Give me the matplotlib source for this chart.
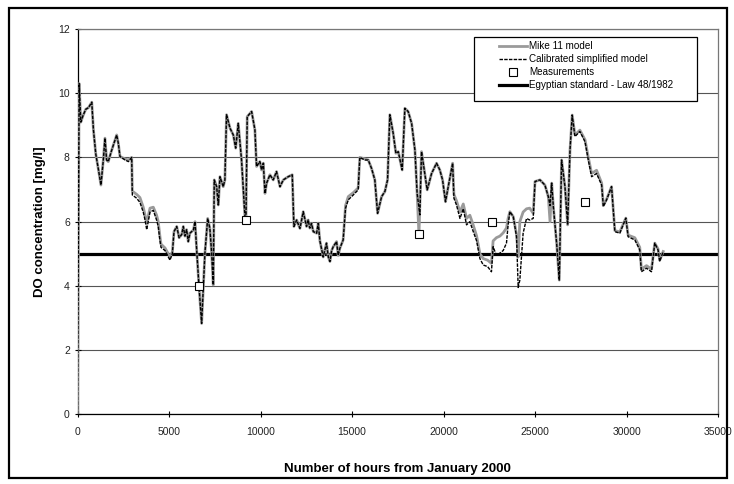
#!/usr/bin/env python3

import matplotlib
matplotlib.use("Agg")
import matplotlib.pyplot as plt
import matplotlib.patches as patches

# data (hours, DO mg/l)
calib_hours = [0, 90, 180, 300, 450, 600, 780, 870, 1000, 1150, 1280, 1410, 1500, 1590,
               1680, 1870, 2140, 2230, 2320, 2600, 2780, 2960, 2995, 3230, 3410, 3590,
               3690, 3780, 3960, 4140, 4320, 4410, 4500, 4560, 4780, 5050, 5180, 5270,
               5420, 5550, 5690, 5780, 5870, 5960, 6050, 6140, 6330, 6420, 6510, 6630,
               6780, 6960, 7110, 7230, 7330, 7416, 7470, 7600, 7690, 7780, 7960, 8050,
               8140, 8330, 8510, 8640, 8780, 8960, 9145, 9200, 9270, 9510, 9690, 9780,
               9960, 10055, 10150, 10240, 10330, 10510, 10690, 10870, 11060, 11240, 11510,
               11730, 11820, 11970, 12150, 12330, 12510, 12600, 12690, 12780, 12880, 13060,
               13150, 13240, 13420, 13600, 13700, 13790, 13880, 13970, 14150, 14240, 14330,
               14510, 14640, 14790, 15060, 15330, 15420, 15700, 15880, 16060, 16240, 16390,
               16610, 16790, 16935, 17060, 17240, 17390, 17520, 17735, 17880, 18060, 18250,
               18430, 18550, 18700, 18790, 19100, 19340, 19610, 19790, 19940, 20100, 20250,
               20490, 20560, 20700, 20890, 21070, 21250, 21430, 21610, 21800, 21980, 22160,
               22400, 22610, 22700, 22880, 23070, 23250, 23430, 23520, 23615, 23800, 23980,
               24070, 24160, 24340, 24525, 24700, 24890, 24990, 25260, 25530, 25715, 25810,
               25900, 25990, 26170, 26315, 26440, 26625, 26770, 26900, 27020, 27170, 27440,
               27720, 27900, 28080, 28350, 28630, 28720, 28900, 29170, 29350, 29620, 29950,
               30075, 30440, 30710, 30800, 31080, 31350, 31530, 31710, 31800, 31990]
calib_do = [0.0, 10.3, 9.1, 9.3, 9.5, 9.55, 9.72, 8.86, 8.1, 7.6, 7.14, 7.92, 8.6, 7.92,
            7.87, 8.23, 8.7, 8.44, 8.03, 7.92, 7.87, 8.0, 6.83, 6.73, 6.6, 6.3,
            6.05, 5.75, 6.3, 6.35, 6.05, 5.85, 5.43, 5.2, 5.1, 4.8, 5.0, 5.69,
            5.85, 5.5, 5.6, 5.85, 5.55, 5.75, 5.38, 5.64, 5.74, 6.0, 5.12, 4.03,
            2.83, 5.02, 6.1, 5.79, 5.0, 4.03, 7.3, 7.09, 6.52, 7.4, 7.09, 7.3,
            9.33, 8.91, 8.7, 8.29, 9.06, 7.92, 6.16, 6.0, 9.27, 9.43, 8.86, 7.72,
            7.87, 7.61, 7.82, 6.88, 7.2, 7.46, 7.3, 7.56, 7.09, 7.3, 7.4,
            7.46, 5.85, 6.05, 5.79, 6.31, 5.85, 6.05, 5.8, 5.95, 5.69, 5.64,
            5.95, 5.4, 4.9, 5.33, 4.9, 4.76, 5.1, 5.22, 5.38, 4.95, 5.17,
            5.43, 6.42, 6.68, 6.83, 6.99, 8.0, 7.92, 7.92, 7.66, 7.3, 6.26,
            6.78, 6.94, 7.3, 9.33, 8.76, 8.13, 8.18, 7.61, 9.53, 9.43, 9.06,
            8.23, 6.88, 6.21, 8.18, 6.99, 7.5, 7.82, 7.61, 7.3, 6.62, 7.09,
            7.82, 6.73, 6.52, 6.1, 6.4, 5.9, 6.0, 5.7, 5.4, 4.85, 4.65,
            4.6, 4.44, 5.22, 4.95, 5.02, 5.1, 5.33, 5.9, 6.31, 6.16, 5.53,
            3.95, 4.18, 5.64, 6.1, 6.05, 6.1, 7.25, 7.3, 7.14, 6.78, 6.5,
            7.2, 6.47, 5.33, 4.18, 7.92, 7.09, 5.9, 8.23, 9.32, 8.65, 8.81,
            8.49, 7.92, 7.4, 7.5, 7.14, 6.47, 6.68, 7.09, 5.69, 5.64, 6.11,
            5.53, 5.43, 5.12, 4.44, 4.55, 4.44, 5.33, 5.12, 4.76, 5.07]

mike_hours = [0, 90, 180, 300, 450, 600, 780, 870, 1000, 1150, 1280, 1410, 1500, 1590,
              1680, 1870, 2140, 2230, 2320, 2600, 2780, 2960, 2995, 3230, 3410, 3590,
              3690, 3780, 3960, 4140, 4320, 4410, 4500, 4560, 4780, 5050, 5180, 5270,
              5420, 5550, 5690, 5780, 5870, 5960, 6050, 6140, 6330, 6420, 6510, 6630,
              6780, 6960, 7110, 7230, 7330, 7416, 7470, 7600, 7690, 7780, 7960, 8050,
              8140, 8330, 8510, 8640, 8780, 8960, 9145, 9200, 9270, 9510, 9690, 9780,
              9960, 10055, 10150, 10240, 10330, 10510, 10690, 10870, 11060, 11240, 11510,
              11730, 11820, 11970, 12150, 12330, 12510, 12600, 12690, 12780, 12880, 13060,
              13150, 13240, 13420, 13600, 13700, 13790, 13880, 13970, 14150, 14240, 14330,
              14510, 14640, 14790, 15060, 15330, 15420, 15700, 15880, 16060, 16240, 16390,
              16610, 16790, 16935, 17060, 17240, 17390, 17520, 17735, 17880, 18060, 18250,
              18430, 18550, 18650, 18790, 19100, 19340, 19610, 19790, 19940, 20100, 20250,
              20490, 20560, 20700, 20890, 21070, 21250, 21430, 21610, 21800, 21980, 22160,
              22400, 22610, 22700, 22880, 23070, 23250, 23430, 23520, 23615, 23800, 23980,
              24070, 24160, 24340, 24525, 24700, 24890, 24990, 25260, 25530, 25715, 25810,
              25900, 25990, 26170, 26315, 26440, 26625, 26770, 26900, 27020, 27170, 27440,
              27720, 27900, 28080, 28350, 28630, 28720, 28900, 29170, 29350, 29620, 29950,
              30075, 30440, 30710, 30800, 31080, 31350, 31530, 31710, 31800, 31990]
mike_do = [0.0, 10.3, 9.1, 9.3, 9.5, 9.55, 9.72, 8.86, 8.1, 7.6, 7.14, 7.92, 8.6, 7.92,
           7.87, 8.23, 8.7, 8.44, 8.03, 7.95, 7.92, 8.0, 6.95, 6.85, 6.75, 6.45,
           6.2, 5.95, 6.42, 6.45, 6.2, 6.0, 5.55, 5.3, 5.18, 4.9, 5.05, 5.69,
           5.85, 5.5, 5.6, 5.85, 5.55, 5.75, 5.38, 5.64, 5.74, 6.0, 5.12, 4.03,
           2.83, 5.02, 6.1, 5.79, 5.0, 4.03, 7.3, 7.09, 6.52, 7.4, 7.09, 7.3,
           9.33, 8.91, 8.7, 8.29, 9.06, 7.92, 6.16, 6.0, 9.27, 9.43, 8.86, 7.72,
           7.87, 7.61, 7.82, 6.88, 7.2, 7.46, 7.3, 7.56, 7.09, 7.3, 7.4,
           7.46, 5.85, 6.05, 5.79, 6.31, 5.85, 6.05, 5.8, 5.95, 5.69, 5.64,
           5.95, 5.4, 4.9, 5.33, 4.9, 4.76, 5.1, 5.22, 5.38, 4.95, 5.17,
           5.43, 6.5, 6.78, 6.9, 7.05, 8.0, 7.95, 7.92, 7.66, 7.3, 6.26,
           6.78, 6.94, 7.3, 9.33, 8.76, 8.13, 8.18, 7.61, 9.53, 9.43, 9.06,
           8.23, 6.88, 5.6, 8.18, 6.99, 7.5, 7.82, 7.61, 7.3, 6.62, 7.09,
           7.82, 6.85, 6.65, 6.3, 6.55, 6.1, 6.2, 5.9, 5.55, 5.0, 4.85,
           4.8, 4.7, 5.4, 5.5, 5.55, 5.65, 5.8, 6.1, 6.31, 6.16, 5.6,
           4.9, 6.0, 6.3, 6.4, 6.42, 6.26, 7.25, 7.3, 7.14, 6.78, 6.0,
           7.2, 6.47, 5.33, 4.18, 7.92, 7.09, 5.9, 8.23, 9.32, 8.7, 8.85,
           8.55, 8.0, 7.5, 7.6, 7.2, 6.5, 6.7, 7.09, 5.72, 5.68, 6.11,
           5.58, 5.5, 5.2, 4.52, 4.63, 4.52, 5.33, 5.15, 4.8, 5.07]

meas_hours = [6640, 9200, 18670, 22650, 27720]
meas_do = [4.0, 6.05, 5.6, 6.0, 6.6]

standard_do = 5.0

x_ticks = list(range(0, 35001, 5000))
y_ticks = list(range(0, 13, 2))

plt.rcParams["font.family"] = ["Liberation Sans", "DejaVu Sans"]

W, H = 734, 484
fig = plt.figure(figsize=(W / 100, H / 100), dpi=100)
ax = fig.add_axes([77.5 / W, 1 - 414.3 / H, 640.8 / W, 385.3 / H])

# outer chart border
fig.patches.append(patches.Rectangle((9 / W, 6 / H), 718 / W, 470 / H,
                                     transform=fig.transFigure, fill=False,
                                     edgecolor="black", linewidth=1.6))

ax.plot(mike_hours, mike_do, color="#9a9a9a", linewidth=2.0, label="Mike 11 model",
        zorder=3)
ax.plot(calib_hours, calib_do, color="black", linewidth=1.0, linestyle=(0, (2.5, 0.9)),
        label="Calibrated simplified model", zorder=4)
ax.plot(meas_hours, meas_do, linestyle="none", marker="s", markersize=6,
        markerfacecolor="white", markeredgecolor="black", markeredgewidth=0.8,
        label="Measurements", zorder=5)
ax.axhline(standard_do, color="black", linewidth=2.3, zorder=2,
           label="Egyptian standard - Law 48/1982")

ax.set_xlim(0, 35000)
ax.set_ylim(0, 12)
ax.set_xticks(x_ticks)
ax.set_yticks(y_ticks)
ax.tick_params(axis="both", labelsize=7.5, direction="inout", length=4, width=0.8,
               colors="black", labelcolor="#222222")
ax.tick_params(axis="x", pad=7)

# grid lines
ax.yaxis.grid(True, color="#555555", linewidth=0.8)
ax.set_axisbelow(True)

ax.spines["left"].set_color("black")
ax.spines["bottom"].set_color("black")
ax.spines["top"].set_color("#777777")
ax.spines["right"].set_color("#777777")
for s in ax.spines.values():
    s.set_linewidth(0.9)

ax.set_xlabel("Number of hours from January 2000", fontsize=9.5, fontweight="bold",
              labelpad=19)
ax.set_ylabel("DO concentration [mg/l]", fontsize=9.5, fontweight="bold", labelpad=9)

# legend box drawn by hand so the left padding matches, legend on top of it
fig.patches.append(patches.Rectangle((474 / W, 1 - 101 / H), 223 / W, 64 / H,
                                     transform=fig.transFigure, facecolor="white",
                                     edgecolor="black", linewidth=0.9, zorder=9))
handles, labels = ax.get_legend_handles_labels()
leg = fig.legend(handles, labels, loc="upper right",
                 bbox_to_anchor=(673 / W, 1 - 41 / H), fontsize=7.1, frameon=False,
                 borderpad=0, labelspacing=0.32, handlelength=2.9, handletextpad=0.15,
                 borderaxespad=0)
leg.set_zorder(10)

fig.savefig("out.png", dpi=100)
